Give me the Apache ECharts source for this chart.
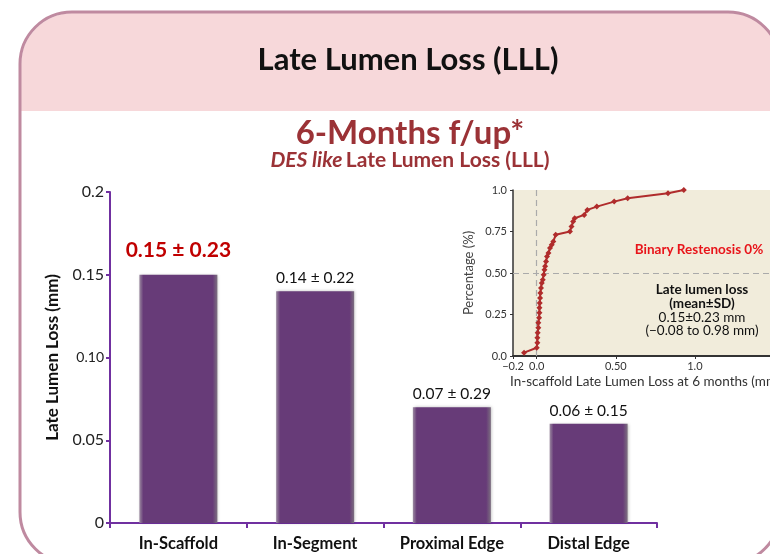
<!DOCTYPE html>
<html>
<head>
<meta charset="utf-8">
<script src="https://cdn.jsdelivr.net/npm/echarts@6/dist/echarts.min.js"></script>
<style>html,body{margin:0;padding:0;background:#fff;}#c{width:770px;height:554px;}</style>
</head>
<body>
<div id="c"></div>
<script>
// ---- main bar chart data ----
const categories = ['In-Scaffold', 'In-Segment', 'Proximal Edge', 'Distal Edge'];
const lllMean = [0.15, 0.14, 0.07, 0.06];
const lllSD = [0.23, 0.22, 0.29, 0.15];
const yTickValues = [0, 0.05, 0.10, 0.15, 0.2];
const yTickLabels = ['0', '0.05', '0.10', '0.15', '0.2'];

// ---- inset cumulative curve data ----
const cdfX = [-0.08, 0.0, 0.004, 0.004, 0.006, 0.01, 0.01, 0.015, 0.017, 0.017, 0.019, 0.021, 0.023, 0.027, 0.032, 0.038, 0.044, 0.049, 0.053, 0.059, 0.065, 0.074, 0.084, 0.095, 0.105, 0.12, 0.21, 0.22, 0.23, 0.24, 0.30, 0.32, 0.38, 0.49, 0.575, 0.83, 0.93];
const cdfY = [0.02, 0.05, 0.08, 0.11, 0.14, 0.17, 0.20, 0.23, 0.26, 0.29, 0.32, 0.35, 0.38, 0.41, 0.44, 0.46, 0.49, 0.52, 0.54, 0.57, 0.60, 0.62, 0.65, 0.67, 0.69, 0.73, 0.75, 0.78, 0.81, 0.83, 0.85, 0.88, 0.90, 0.93, 0.95, 0.98, 1.0];
const insetXMin = -0.15, insetXMax = 1.475;
const insetXTicks = [-0.15, 0, 0.5, 1.0];
const insetXTickLabels = ['\u22120.2', '0.0', '0.50', '1.0'];
const insetYTicks = [0, 0.25, 0.5, 0.75, 1.0];
const insetYTickLabels = ['0.0', '0.25', '0.50', '0.75', '1.0'];

const FONT = 'Lato, "Open Sans", sans-serif';
const chart = echarts.init(document.getElementById('c'), null, {renderer: 'canvas'});

const barData = lllMean.map((v, i) => {
  const item = {value: v};
  if (i === 0) {
    item.label = {distance: 14, fontSize: 21, fontWeight: 'bold', color: '#c00000'};
  }
  return item;
});

const barGradient = new echarts.graphic.LinearGradient(0, 0, 1, 0, [
  {offset: 0, color: '#9b8aa0'},
  {offset: 0.05, color: '#673b78'},
  {offset: 0.94, color: '#673b78'},
  {offset: 1, color: '#7c6f80'}
]);

const option = {
  backgroundColor: '#ffffff',
  animation: false,
  graphic: [
    {type: 'rect', z: 0, shape: {x: 21, y: 13, width: 760, height: 98, r: [52, 52, 0, 0]}, style: {fill: '#f7d8da'}},
    {type: 'rect', z: 1, shape: {x: 20, y: 12, width: 760, height: 552, r: 52}, style: {fill: 'none', stroke: '#bf8aa0', lineWidth: 3}},
    {type: 'text', z: 100, x: 408, y: 60, style: {text: 'Late Lumen Loss (LLL)', font: 'bold 31px ' + FONT, fill: '#111', align: 'center', verticalAlign: 'middle'}},
    {type: 'text', z: 100, x: 410, y: 133, style: {text: '6-Months f/up*', font: 'bold 33px ' + FONT, fill: '#9b3236', align: 'center', verticalAlign: 'middle'}},
    {type: 'text', z: 100, x: 410, y: 160, style: {
      text: '{i|DES like} {b|Late Lumen Loss (LLL)}', align: 'center', verticalAlign: 'middle',
      rich: {
        i: {fontFamily: FONT, fontSize: 21, fontWeight: 'bold', fontStyle: 'italic', fill: '#9b3236'},
        b: {fontFamily: FONT, fontSize: 21, fontWeight: 'bold', fill: '#9b3236'}
      }
    }},
    {type: 'text', z: 100, x: 699, y: 250, style: {text: 'Binary Restenosis 0%', font: 'bold 13.5px ' + FONT, fill: '#e8141a', align: 'center', verticalAlign: 'middle'}},
    {type: 'text', z: 100, x: 702, y: 290, style: {text: 'Late lumen loss', font: 'bold 13.5px ' + FONT, fill: '#111', align: 'center', verticalAlign: 'middle'}},
    {type: 'text', z: 100, x: 702, y: 304, style: {text: '(mean\u00b1SD)', font: 'bold 13.5px ' + FONT, fill: '#111', align: 'center', verticalAlign: 'middle'}},
    {type: 'text', z: 100, x: 702, y: 318, style: {text: '0.15\u00b10.23 mm', font: '13.5px ' + FONT, fill: '#111', align: 'center', verticalAlign: 'middle'}},
    {type: 'text', z: 100, x: 702, y: 331, style: {text: '(\u22120.08 to 0.98 mm)', font: '13.5px ' + FONT, fill: '#111', align: 'center', verticalAlign: 'middle'}}
  ],
  grid: [
    {left: 110, right: 113, top: 192, bottom: 31, outerBoundsMode: 'none', containLabel: false},
    {left: 513, right: 0, top: 190, bottom: 198, outerBoundsMode: 'none', containLabel: false,
     show: true, backgroundColor: '#f1ecdb', borderWidth: 0}
  ],
  xAxis: [
    {
      type: 'category', gridIndex: 0, data: categories,
      axisLine: {lineStyle: {color: '#7030a0', width: 2}},
      axisTick: {show: true, length: 5, lineStyle: {color: '#7030a0', width: 2}},
      axisLabel: {fontFamily: FONT, fontSize: 16.5, fontWeight: 'bold', color: '#111', margin: 12, interval: 0}
    },
    {
      type: 'value', gridIndex: 1, min: insetXMin, max: insetXMax,
      splitLine: {show: false},
      axisLine: {onZero: false, lineStyle: {color: '#333', width: 2}},
      axisTick: {show: true, length: 3, customValues: insetXTicks, lineStyle: {color: '#333'}},
      axisLabel: {
        fontFamily: FONT, fontSize: 11, color: '#333', margin: 5,
        customValues: insetXTicks,
        formatter: v => { const i = insetXTicks.findIndex(t => Math.abs(t - v) < 1e-6); return i >= 0 ? insetXTickLabels[i] : ''; }
      },
      name: 'In-scaffold Late Lumen Loss at 6 months (mm)', nameLocation: 'start', nameGap: 0,
      nameTextStyle: {fontFamily: FONT, fontSize: 13.5, color: '#333', align: 'left', verticalAlign: 'top', padding: [19, 0, 0, -3]}
    }
  ],
  yAxis: [
    {
      type: 'value', gridIndex: 0, min: 0, max: 0.2, interval: 0.05,
      splitLine: {show: false},
      axisLine: {show: true, lineStyle: {color: '#7030a0', width: 2}},
      axisTick: {show: true, length: 4, lineStyle: {color: '#7030a0', width: 2}},
      axisLabel: {
        fontFamily: FONT, fontSize: 16, color: '#222', margin: 6, showMinLabel: true, showMaxLabel: true,
        formatter: v => { const i = yTickValues.findIndex(t => Math.abs(t - v) < 1e-6); const s = i >= 0 ? yTickLabels[i] : ''; return s === '0.10' ? '{s|' + s + '}' : s; },
        rich: {s: {fontFamily: FONT, fontSize: 14, color: '#222'}}
      },
      name: 'Late Lumen Loss (mm)', nameLocation: 'middle', nameGap: 36, nameRotate: 90,
      nameTextStyle: {fontFamily: FONT, fontSize: 17, fontWeight: 'bold', color: '#111'}
    },
    {
      type: 'value', gridIndex: 1, min: 0, max: 1, interval: 0.25,
      splitLine: {show: false},
      axisLine: {show: true, onZero: false, lineStyle: {color: '#333', width: 1.5}},
      axisTick: {show: true, length: 3, lineStyle: {color: '#333'}},
      axisLabel: {
        fontFamily: FONT, fontSize: 11, color: '#333', margin: 6, showMinLabel: true, showMaxLabel: true,
        formatter: v => { const i = insetYTicks.findIndex(t => Math.abs(t - v) < 1e-6); return i >= 0 ? insetYTickLabels[i] : ''; }
      },
      name: 'Percentage (%)', nameLocation: 'middle', nameGap: 38, nameRotate: 90,
      nameTextStyle: {fontFamily: FONT, fontSize: 13, color: '#444'}
    }
  ],
  series: [
    {
      type: 'bar', xAxisIndex: 0, yAxisIndex: 0, data: barData, barWidth: 78,
      itemStyle: {color: barGradient, shadowColor: 'rgba(0,0,0,0.25)', shadowBlur: 3, shadowOffsetX: 1},
      label: {
        show: true, position: 'top', distance: 5, fontFamily: FONT, fontSize: 15.5, color: '#111',
        formatter: p => lllMean[p.dataIndex].toFixed(2) + ' \u00b1 ' + lllSD[p.dataIndex].toFixed(2)
      }
    },
    {
      type: 'line', xAxisIndex: 1, yAxisIndex: 1,
      data: cdfX.map((x, i) => [x, cdfY[i]]),
      symbol: 'diamond', symbolSize: 6, showSymbol: true,
      lineStyle: {color: '#b02c2c', width: 2},
      itemStyle: {color: '#b02c2c'},
      z: 5,
      markLine: {
        silent: true, symbol: 'none', animation: false,
        lineStyle: {color: '#aaaaaa', type: [6, 4], width: 1.2},
        label: {show: false},
        data: [{xAxis: 0}, {yAxis: 0.5}]
      }
    }
  ]
};
chart.setOption(option);
</script>
</body>
</html>
